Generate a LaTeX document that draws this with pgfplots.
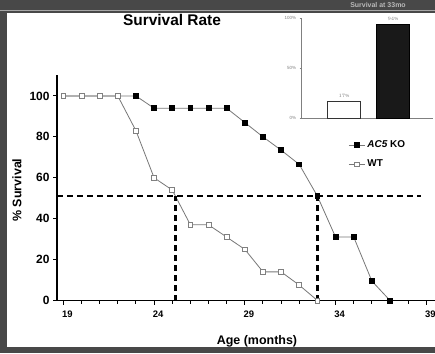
\documentclass[border=0pt]{standalone}
\usepackage{fontspec}
\setmainfont{Liberation Sans}
\usepackage{pgfplots}
\pgfplotsset{compat=1.18}
\definecolor{bgray}{RGB}{72,72,72}
\definecolor{lgray}{RGB}{120,120,120}
\begin{document}
\begin{tikzpicture}[x=1bp,y=1bp]
\useasboundingbox (0,0) rectangle (435,353);
\fill[bgray] (0,0) rectangle (435,353);
\fill[white] (7,6) rectangle (435,340);
\draw[gray!70,line width=1bp] (0,342) -- (435,342);
\node[text=gray!55,font=\bfseries\fontsize{7}{7}\selectfont] at (378,347.5) {Survival at 33mo};
\node[font=\bfseries\fontsize{15.5}{16}\selectfont] at (172,333) {Survival Rate};
% main axis
\begin{axis}[
  at={(57bp,52.5bp)}, anchor=south west,
  scale only axis, width=378.4bp, height=225bp,
  xmin=18.65, xmax=39.5, ymin=0, ymax=110,
  axis x line*=bottom, axis y line*=left,
  axis line style={line width=1.3bp},
  xtick={19,24,29,34,39}, minor xtick={19,...,39},
  ytick={0,20,40,60,80,100},
  tick align=outside,
  major tick length=4bp, minor tick length=3bp,
  tick style={line width=1bp,black},
  /pgf/number format/assume math mode=true,
  xticklabel style={font=\bfseries\fontsize{9.5}{10}\selectfont, yshift=-3bp, xshift=4bp},
  yticklabel style={font=\bfseries\fontsize{12}{12}\selectfont},
  xlabel={Age (months)},
  ylabel={\% Survival},
  xlabel style={font=\bfseries\fontsize{12.5}{13}\selectfont, at={(rel axis cs:0.5285,-0.18)}, anchor=center},
  ylabel style={font=\bfseries\fontsize{12.5}{13}\selectfont, at={(rel axis cs:-0.1057,0.491)}, anchor=center},
  clip=false,
  legend style={at={(rel axis cs:0.77,0.72)}, anchor=north west, draw=none, fill=none,
    font=\bfseries\fontsize{10}{10}\selectfont, row sep=7bp, inner sep=0pt},
  legend cell align=left,
  legend image code/.code={\draw[mark repeat=2,mark phase=2,#1] plot coordinates {(0bp,0bp)(8bp,0bp)(16bp,0bp)};},
]
\addplot[lgray, line width=0.8bp, mark=square*, mark size=2.4bp, mark options={fill=black,draw=black}]
coordinates {(19,100)(20,100)(21,100)(22,100)(23,100)(24,94)(25,94)(26,94)(27,94)(28,94)(29,87)(30,80)(31,73.5)(32,66.5)(33,51)(34,31)(35,31)(36,9.5)(37,0)};
\addlegendentry{\textit{AC5} KO}
\addplot[lgray, line width=0.8bp, mark=square*, mark size=2.4bp, mark options={fill=white,draw=gray}]
coordinates {(19,100)(20,100)(21,100)(22,100)(23,83)(24,60)(25,54)(26,37)(27,37)(28,31)(29,25)(30,14)(31,14)(32,7.5)(33,0)};
\addlegendentry{WT}
\addplot[black, line width=2.2bp, dash pattern=on 6bp off 4bp, forget plot] coordinates {(18.65,51)(38.7,51)};
\addplot[black, line width=2.2bp, dash pattern=on 6bp off 4bp, forget plot] coordinates {(25.18,0)(25.18,51)};
\addplot[black, line width=2.2bp, dash pattern=on 6bp off 4bp, forget plot] coordinates {(33,0)(33,51)};
\end{axis}
% inset
\begin{axis}[
  at={(301.7bp,234.7bp)}, anchor=south west,
  scale only axis, width=131.3bp, height=100bp,
  xmin=0.137, xmax=2.82, ymin=0, ymax=100,
  axis x line*=bottom, axis y line*=left,
  axis line style={gray, line width=0.6bp},
  xtick=\empty, ytick={0,50,100},
  yticklabels={0\%,50\%,100\%},
  tick align=outside, major tick length=2bp,
  tick style={gray, line width=0.5bp},
  yticklabel style={font=\fontsize{4.5}{5}\selectfont, text=gray},
  clip=false,
  ybar, bar width=33bp,
  nodes near coords={\pgfmathprintnumber{\pgfplotspointmeta}\%},
  nodes near coords style={font=\fontsize{4.5}{5}\selectfont, text=gray},
]
\addplot[bar shift=0pt, draw=black!80, fill=white, line width=0.7bp] coordinates {(1,17)};
\addplot[bar shift=0pt, draw=black, fill=black!90] coordinates {(2,94)};
\end{axis}
\end{tikzpicture}
\end{document}
